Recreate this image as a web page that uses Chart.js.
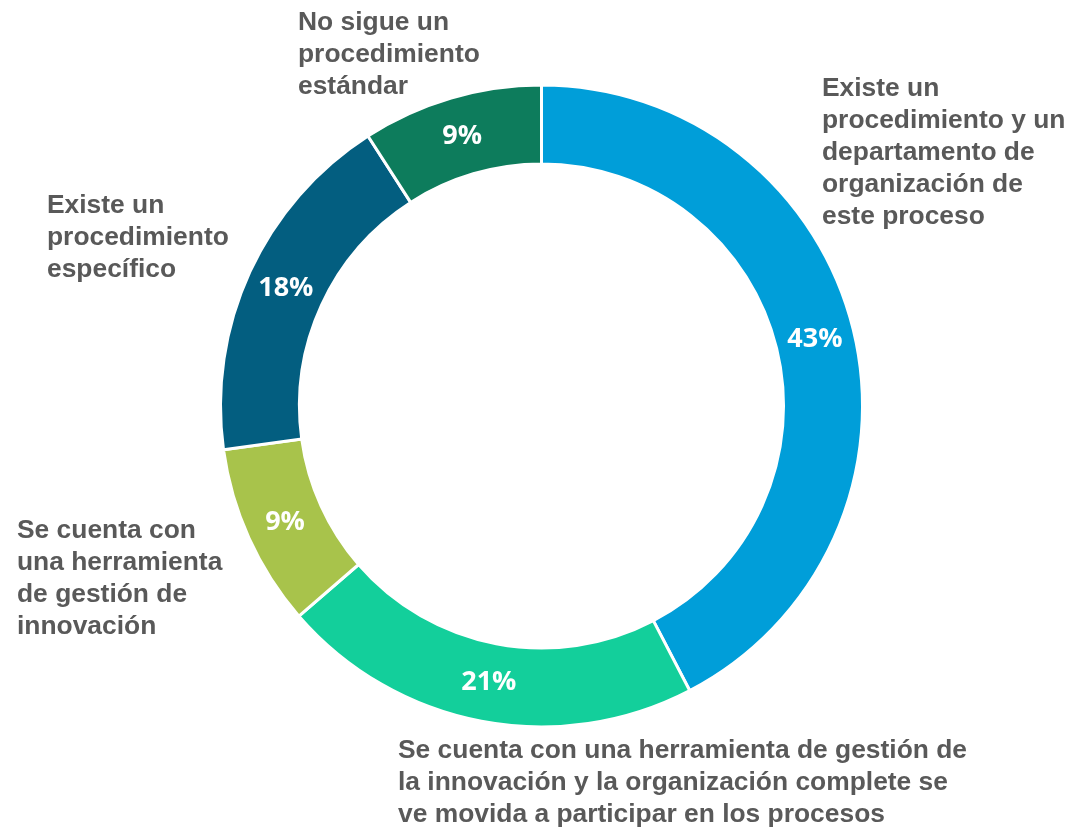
<!DOCTYPE html>
<html>
<head>
<meta charset="utf-8">
<script src="https://cdn.jsdelivr.net/npm/chart.js@4/dist/chart.umd.min.js"></script>
<style>
  html, body { margin: 0; padding: 0; background: #ffffff; }
  #wrap { position: relative; width: 1071px; height: 830px; }
</style>
</head>
<body>
<div id="wrap"><canvas id="c" width="1071" height="830"></canvas></div>
<script>
// ---- data ----
const categories = [
  ['Existe un', 'procedimiento y un', 'departamento de', 'organización de', 'este proceso'],
  ['Se cuenta con una herramienta de gestión de', 'la innovación y la organización complete se', 've movida a participar en los procesos'],
  ['Se cuenta con', 'una herramienta', 'de gestión de', 'innovación'],
  ['Existe un', 'procedimiento', 'específico'],
  ['No sigue un', 'procedimiento', 'estándar']
];
const values = [42.4, 21.3, 9.2, 18.1, 9.1];
const percentLabels = ['43%', '21%', '9%', '18%', '9%'];

// ---- styles / layout ----
const colors = ['#009ED9', '#13CF9B', '#A8C34B', '#035E80', '#0D7C5C'];
const labelAnchors = [
  {x: 822, y: 89},
  {x: 398, y: 751},
  {x: 17, y: 531},
  {x: 47, y: 206},
  {x: 298, y: 23}
];
const lineHeight = 32;

const outsideLabels = {
  id: 'outsideLabels',
  afterDatasetsDraw(chart) {
    const ctx = chart.ctx;
    ctx.save();
    // percent labels inside the ring
    const meta = chart.getDatasetMeta(0);
    ctx.font = 'bold 27px "Open Sans", "Noto Sans", sans-serif';
    ctx.fillStyle = '#ffffff';
    ctx.textAlign = 'center';
    ctx.textBaseline = 'middle';
    meta.data.forEach((arc, i) => {
      const p = arc.getCenterPoint();
      ctx.fillText(percentLabels[i], p.x, p.y);
    });
    // category labels
    ctx.font = 'bold 26.4px "Liberation Sans", Arial, sans-serif';
    ctx.fillStyle = '#595959';
    ctx.textAlign = 'left';
    categories.forEach((lines, i) => {
      const a = labelAnchors[i];
      lines.forEach((t, j) => ctx.fillText(t, a.x, a.y + j * lineHeight));
    });
    ctx.restore();
  }
};

new Chart(document.getElementById('c'), {
  type: 'doughnut',
  data: {
    labels: categories.map(l => l.join(' ')),
    datasets: [{
      data: values,
      backgroundColor: colors,
      borderColor: '#ffffff',
      borderWidth: 3
    }]
  },
  options: {
    responsive: false,
    animation: false,
    cutout: '75.4%',
    layout: { padding: { left: 219, right: 207, top: 83.5, bottom: 101.5 } },
    plugins: { legend: { display: false }, tooltip: { enabled: false } }
  },
  plugins: [outsideLabels]
});
</script>
</body>
</html>
